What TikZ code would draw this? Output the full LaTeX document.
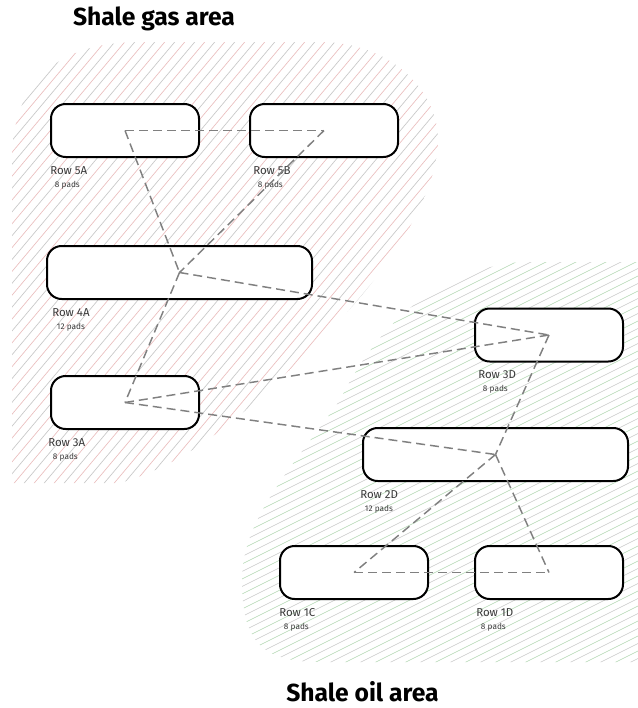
\documentclass[tikz,border=0pt]{standalone}
\usepackage{fontspec}
\setmainfont{Fira Sans}
\usetikzlibrary{positioning}

\definecolor{gasred}{RGB}{234,190,190}
\definecolor{oilgreen}{RGB}{176,214,176}
\definecolor{hatchgrey}{RGB}{200,200,200}
\definecolor{tagtext}{RGB}{58,58,58}

\begin{document}
\begin{tikzpicture}[x=0.75pt,y=-0.75pt,
    pad/.style={draw=black, fill=white, line width=1.5pt, rounded corners=11pt,
                minimum width=111pt, minimum height=39.75pt, inner sep=0pt},
    widepad/.style={pad, minimum width=198.75pt},
    rowtag/.style={font=\fontsize{8.6}{10}\selectfont, text=tagtext, inner sep=0pt},
    padtag/.style={font=\fontsize{6.2}{7}\selectfont, text=tagtext, inner sep=0pt},
    link/.style={draw=gray, line width=1.1pt, dash pattern=on 6.75pt off 3.75pt},
    areatitle/.style={font=\bfseries\fontsize{18.5}{22}\selectfont, inner sep=0pt, anchor=base}]
\useasboundingbox (0,0) rectangle (638,708);

% hatched areas
\begin{scope}
    \clip (12,483) -- (12,160) .. controls (12,80) and (60,42) .. (140,42) -- (320,42)
        .. controls (390,42) and (438,90) .. (438,140)
        .. controls (438,200) and (380,280) .. (330,330)
        .. controls (260,400) and (200,460) .. (120,483) -- cycle;
    \foreach \x in {-440,-420,...,460} {
        \draw[gasred, line width=0.5pt] (\x,500) -- ++(420,-500);
        \draw[hatchgrey, line width=0.5pt] (\x+10,500) -- ++(420,-500);
    }
\end{scope}
\begin{scope}
    \clip (638,262) -- (520,262) .. controls (440,270) and (380,320) .. (340,400)
        .. controls (290,470) and (242,520) .. (242,580)
        .. controls (242,640) and (260,662) .. (320,662) -- (638,662) -- cycle;
    \foreach \x in {-620,-590,...,640} {
        \draw[oilgreen, line width=0.45pt] (\x,680) -- ++(840,-420);
        \draw[hatchgrey, line width=0.45pt] (\x+15,680) -- ++(840,-420);
    }
\end{scope}

% well pad rows
\node[pad] (r5a) at (125,130.5) {};
\node[pad] (r5b) at (324,130.5) {};
\node[widepad] (r4a) at (179.5,272.5) {};
\node[pad] (r3a) at (125,402.5) {};
\node[pad] (r3d) at (549,335) {};
\node[widepad] (r2d) at (495.5,454.5) {};
\node[pad] (r1c) at (354,572.5) {};
\node[pad] (r1d) at (549,572.5) {};

% row labels
\node[rowtag, below right=6pt and 0pt of r5a.south west] (t5a) {Row 5A};
\node[rowtag, below right=6pt and 3pt of r5b.south west] (t5b) {Row 5B};
\node[rowtag, below right=6pt and 4.5pt of r4a.south west] (t4a) {Row 4A};
\node[rowtag, below right=6pt and -1.5pt of r3a.south west] (t3a) {Row 3A};
\node[rowtag, below right=6pt and 3pt of r3d.south west] (t3d) {Row 3D};
\node[rowtag, below right=6pt and -1.5pt of r2d.south west] (t2d) {Row 2D};
\node[rowtag, below right=6pt and 0pt of r1c.south west] (t1c) {Row 1C};
\node[rowtag, below right=6pt and 1.5pt of r1d.south west] (t1d) {Row 1D};

\foreach \t/\n in {t5a/8, t5b/8, t4a/12, t3a/8, t3d/8, t2d/12, t1c/8, t1d/8}
    \node[padtag, below right=4.5pt and 3.5pt of \t.south west] (\t p) {\n{} pads};

% connections
\foreach \a/\b in {r5a/r5b, r5a/r4a, r5b/r4a, r4a/r3a, r4a/r3d, r3a/r3d,
                   r3a/r2d, r3d/r2d, r2d/r1c, r2d/r1d, r1c/r1d}
    \draw[link] (\a.center) -- (\b.center);

% area titles
\node[areatitle] (gastitle) at (154,25) {Shale gas area};
\node[areatitle] (oiltitle) at (362.5,701) {Shale oil area};
\end{tikzpicture}
\end{document}
